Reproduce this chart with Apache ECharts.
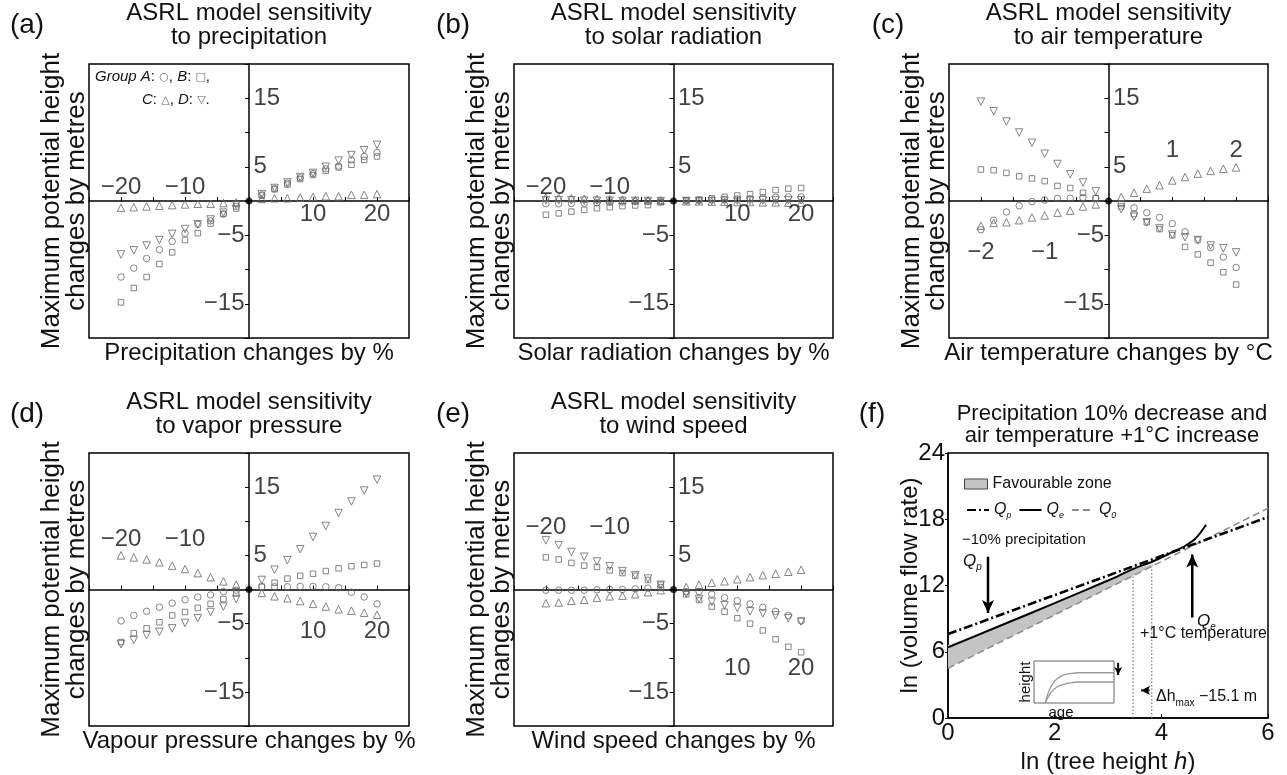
<!DOCTYPE html>
<html>
<head>
<meta charset="utf-8">
<script src="https://cdn.jsdelivr.net/npm/echarts@6/dist/echarts.min.js"></script>
<style>
  html, body { margin: 0; background: #fff; }
  #chart { width: 1287px; height: 775px; }
</style>
</head>
<body>
<div id="chart"></div>
<script>
const FONT = '"Liberation Sans", Arial, Helvetica, sans-serif';

// x positions of the runs
const pctX = [-20, -18, -16, -14, -12, -10, -8, -6, -4, -2, 2, 4, 6, 8, 10, 12, 14, 16, 18, 20];
const tempX = [-2, -1.8, -1.6, -1.4, -1.2, -1, -0.8, -0.6, -0.4, -0.2, 0.2, 0.4, 0.6, 0.8, 1, 1.2, 1.4, 1.6, 1.8, 2];

// tick labels
const pctTicks = [-20, -10, 10, 20];
const tempTicks = [-2, -1, 1, 2];
const heightTicks = [15, 5, -5, -15];

// (a) precipitation, groups A-D
const precipA = [-11.1, -9.8, -8.4, -7.1, -5.9, -4.7, -3.4, -2.9, -1.9, -0.8, 0.9, 1.8, 2.6, 3.4, 4.0, 4.7, 5.1, 6.0, 6.5, 7.1];
const precipB = [-14.8, -12.7, -11.1, -9.2, -7.5, -5.7, -4.7, -3.3, -1.9, -1.1, 0.8, 1.7, 2.4, 3.2, 3.8, 4.4, 4.9, 5.3, 6.0, 6.5];
const precipC = [-1.0, -0.9, -0.8, -0.7, -0.6, -0.5, -0.4, -0.4, -0.3, -0.2, 0.3, 0.4, 0.4, 0.5, 0.6, 0.7, 0.7, 0.9, 0.9, 1.0];
const precipD = [-7.8, -7.2, -6.5, -5.7, -4.8, -4.1, -3.4, -2.7, -1.7, -0.6, 1.0, 1.9, 2.7, 3.5, 4.1, 5.0, 5.9, 6.7, 7.4, 8.2];

// (b) solar radiation
const solarA = [-0.4, -0.4, -0.35, -0.3, -0.25, -0.2, -0.15, -0.1, -0.05, 0, 0.05, 0.1, 0.15, 0.2, 0.3, 0.35, 0.45, 0.55, 0.6, 0.6];
const solarB = [-2.0, -1.8, -1.55, -1.3, -1.05, -0.9, -0.75, -0.65, -0.6, -0.2, 0.1, 0.2, 0.4, 0.6, 0.8, 1.0, 1.3, 1.6, 1.8, 1.9];
const solarC = [0.5, 0.45, 0.4, 0.35, 0.3, 0.25, 0.2, 0.15, 0.1, 0.05, -0.05, -0.05, -0.1, -0.1, -0.15, -0.15, -0.2, -0.2, -0.25, -0.25];
const solarD = [0.1, 0.1, 0.1, 0.05, 0.05, 0.05, 0, 0, 0, 0, 0, 0, 0, 0.05, 0.05, 0.05, 0.1, 0.1, 0.1, 0.1];

// (c) air temperature
const tempA = [-4.2, -2.8, -1.6, -0.7, -0.1, 0.15, 0.4, 0.4, 0.5, 0.4, -0.4, -1.0, -1.7, -2.4, -3.3, -4.5, -5.7, -6.8, -8.2, -9.7];
const tempB = [4.6, 4.5, 4.1, 3.6, 3.3, 2.9, 2.2, 1.9, 1.2, 0.4, -0.8, -1.9, -3.1, -4.1, -5.0, -6.7, -7.8, -9.0, -10.4, -12.2];
const tempC = [-3.6, -3.2, -3.1, -2.8, -2.4, -2.1, -1.7, -1.4, -0.8, -0.5, 0.6, 1.2, 1.8, 2.3, 3.0, 3.5, 4.0, 4.4, 4.7, 4.9];
const tempD = [14.5, 13.1, 11.6, 10.0, 8.5, 6.9, 5.4, 3.9, 2.7, 1.4, -1.2, -2.3, -3.1, -4.0, -4.9, -5.3, -5.7, -6.5, -6.9, -7.5];

// (d) vapour pressure
const vaporA = [-4.6, -3.8, -3.2, -2.6, -2.0, -1.5, -1.1, -0.8, -0.3, -0.1, 0.4, 0.4, 0.4, 0.45, 0.45, 0.4, 0.25, -0.4, -1.1, -2.1];
const vaporB = [-7.7, -6.4, -5.7, -4.8, -3.8, -3.3, -2.7, -2.1, -1.4, -0.6, 0.4, 1.0, 1.6, 2.0, 2.3, 2.7, 3.1, 3.4, 3.6, 3.8];
const vaporC = [5.0, 4.7, 4.4, 4.0, 3.5, 3.0, 2.4, 1.8, 1.2, 0.7, -0.5, -1.0, -1.3, -1.7, -2.1, -2.5, -2.9, -3.1, -3.4, -3.7];
const vaporD = [-8.0, -7.4, -6.7, -6.2, -5.7, -4.9, -4.2, -3.3, -2.5, -1.4, 1.4, 2.9, 4.3, 5.9, 7.7, 9.3, 11.2, 12.9, 14.5, 16.1];

// (e) wind speed
const windA = [-0.1, -0.1, -0.1, -0.1, -0.05, 0, 0, 0.1, 0.2, 0.3, -0.3, -0.3, -0.7, -1.2, -1.65, -2.1, -2.6, -3.2, -3.8, -4.6];
const windB = [4.7, 4.4, 3.9, 3.5, 3.3, 2.8, 2.4, 2.0, 1.4, 0.7, -0.7, -1.55, -2.5, -3.25, -4.2, -5.0, -6.0, -7.3, -8.4, -9.2];
const windC = [-2.0, -1.9, -1.65, -1.5, -1.2, -1.0, -0.9, -0.7, -0.4, -0.1, 0.35, 0.7, 1.0, 1.2, 1.5, 1.8, 2.1, 2.3, 2.6, 2.9];
const windD = [7.2, 6.5, 5.5, 4.8, 4.1, 3.4, 2.7, 2.1, 1.6, 0.7, -0.6, -1.4, -1.8, -2.3, -2.7, -3.2, -3.5, -3.8, -4.2, -4.7];

// (f) ln(Q) against ln(h)
const lineX = [0, 6];
const q0 = [4.5, 19.0];
const qp = [7.6, 18.2];
const qeX = [0, 1, 2, 3, 3.5, 3.85, 4.2, 4.45, 4.65, 4.84];
const qe = [6.4, 8.4, 10.4, 12.45, 13.55, 14.2, 15.0, 15.6, 16.3, 17.5];
const zoneX = [0, 1, 2, 3, 3.5, 3.85];
const zoneLow = [4.5, 6.92, 9.33, 11.75, 12.96, 13.8];
const zoneTop = [6.6, 8.45, 10.4, 12.45, 13.5, 13.95];
const dropA = [[3.47, 0], [3.47, 13.0]];
const dropB = [[3.82, 0], [3.82, 13.7]];
const arrowP = [[0.75, 14.6], [0.75, 9.5]];
const arrowE = [[4.58, 9.1], [4.58, 14.8]];
const arrowH = [[3.78, 2.5], [3.62, 2.5]];
const arrowInset = [[3.19, 5.0], [3.19, 3.9]];

// inset height against age
const insetAge = [0.14, 0.18, 0.23, 0.29, 0.36, 0.45, 0.56, 0.7, 1];
const insetHigh = [0, 0.25, 0.45, 0.58, 0.66, 0.7, 0.72, 0.72, 0.72];
const insetLow = [0, 0.15, 0.29, 0.38, 0.44, 0.48, 0.5, 0.5, 0.5];

const zip = (xs, ys) => xs.map((x, i) => [x, ys[i]]);
const fmt = v => (v < 0 ? '\u2212' + Math.abs(v) : String(v));

const panels = [
  { letter: '(a)', title: 'ASRL model sensitivity\nto precipitation', xname: 'Precipitation changes by %',
    box: { left: 89, top: 64, width: 320, height: 274 }, xs: pctX, range: 25, step: 5, ticks: pctTicks,
    negY: 2.0, posY: -2.0, groups: [precipA, precipB, precipC, precipD] },
  { letter: '(b)', title: 'ASRL model sensitivity\nto solar radiation', xname: 'Solar radiation changes by %',
    box: { left: 514, top: 64, width: 319, height: 274 }, xs: pctX, range: 25, step: 5, ticks: pctTicks,
    negY: 2.0, posY: -2.0, groups: [solarA, solarB, solarC, solarD] },
  { letter: '(c)', title: 'ASRL model sensitivity\nto air temperature', xname: 'Air temperature changes by \u00b0C',
    box: { left: 949, top: 64, width: 319, height: 274 }, xs: tempX, range: 2.5, step: 0.5, ticks: tempTicks,
    negY: -7.5, posY: 7.4, groups: [tempA, tempB, tempC, tempD] },
  { letter: '(d)', title: 'ASRL model sensitivity\nto vapor pressure', xname: 'Vapour pressure changes by %',
    box: { left: 89, top: 453, width: 320, height: 273 }, xs: pctX, range: 25, step: 5, ticks: pctTicks,
    negY: 7.4, posY: -6.2, groups: [vaporA, vaporB, vaporC, vaporD] },
  { letter: '(e)', title: 'ASRL model sensitivity\nto wind speed', xname: 'Wind speed changes by %',
    box: { left: 514, top: 453, width: 319, height: 273 }, xs: pctX, range: 25, step: 5, ticks: pctTicks,
    negY: 9.1, posY: -11.5, groups: [windA, windB, windC, windD] },
];

const markers = [
  { symbol: 'circle', size: 6.5, rotate: 0 },
  { symbol: 'rect', size: 5.5, rotate: 0 },
  { symbol: 'triangle', size: 7.5, rotate: 0 },
  { symbol: 'triangle', size: 7.5, rotate: 180 },
];

const grid = [];
const xAxis = [];
const yAxis = [];
const series = [];
const texts = [];

function text(x, y, str, size, extra) {
  return Object.assign({
    type: 'text', x: x, y: y, silent: true, z: 100,
    style: {
      text: str, font: size + 'px ' + FONT, fill: '#111',
      textAlign: 'center', align: 'center', textVerticalAlign: 'middle', verticalAlign: 'middle',
      lineHeight: size
    }
  }, extra || {});
}

panels.forEach((p, i) => {
  const b = p.box;
  const cx = b.left + b.width / 2;
  grid.push(Object.assign({ show: true, borderColor: '#000', borderWidth: 1.5, backgroundColor: 'transparent' }, b));
  xAxis.push({
    gridIndex: i, type: 'value', min: -p.range, max: p.range, interval: p.step,
    axisLine: { onZero: true, lineStyle: { color: '#000', width: 1.5 } },
    axisTick: { inside: true, length: 4, lineStyle: { color: '#000' } },
    axisLabel: { show: false }, splitLine: { show: false }
  });
  yAxis.push({
    gridIndex: i, type: 'value', min: -20, max: 20, interval: 5,
    axisLine: { onZero: true, lineStyle: { color: '#000', width: 1.5 } },
    axisTick: { inside: false, length: 4, lineStyle: { color: '#000' } },
    axisLabel: { show: false }, splitLine: { show: false }
  });

  p.groups.forEach((vals, g) => {
    const m = markers[g];
    series.push({
      type: 'scatter', xAxisIndex: i, yAxisIndex: i, silent: true,
      symbol: m.symbol, symbolSize: m.size, symbolRotate: m.rotate,
      itemStyle: { color: 'rgba(255,255,255,0)', borderColor: '#666', borderWidth: 1 },
      data: zip(p.xs, vals)
    });
  });
  series.push({
    type: 'scatter', xAxisIndex: i, yAxisIndex: i, silent: true, z: 4,
    symbol: 'circle', symbolSize: 7, itemStyle: { color: '#000' }, data: [[0, 0]]
  });
  // tick labels sitting next to the crossing axes
  series.push({
    type: 'scatter', xAxisIndex: i, yAxisIndex: i, silent: true, z: 5,
    symbolSize: 1, itemStyle: { color: 'rgba(0,0,0,0)' },
    data: p.ticks.map(v => [v, v < 0 ? p.negY : p.posY]),
    label: { show: true, position: 'inside', formatter: q => fmt(q.value[0]),
      fontSize: 24, fontFamily: FONT, color: '#111' }
  });
  series.push({
    type: 'scatter', xAxisIndex: i, yAxisIndex: i, silent: true, z: 5,
    symbolSize: 1, itemStyle: { color: 'rgba(0,0,0,0)' },
    data: heightTicks.map(v => ({ value: [0, v], label: { position: v > 0 ? 'right' : 'left' } })),
    label: { show: true, distance: 4, formatter: q => fmt(q.value[1]),
      fontSize: 24, fontFamily: FONT, color: '#111' }
  });

  texts.push(text(cx, b.top - 39, p.title, 24, {}));
  texts.push(text(p.letter === '(a)' || p.letter === '(d)' ? 27 : b.left - 61, b.top - 39, p.letter, 28, {}));
  texts.push(text(cx, b.top + b.height + 15, p.xname, 24, {}));
  const yn = text(b.left - 25, b.top + b.height / 2, 'Maximum potential height\nchanges by metres', 26, { rotation: Math.PI / 2 });
  yn.style.lineHeight = 25;
  texts.push(yn);
});

// panel (f)
const fi = 5;
grid.push({ show: true, left: 948, top: 453, width: 320, height: 274, borderColor: '#000', borderWidth: 1.5, backgroundColor: 'transparent' });
xAxis.push({
  gridIndex: fi, type: 'value', min: 0, max: 6, interval: 2,
  axisLine: { lineStyle: { color: '#000', width: 1.5 } },
  axisTick: { inside: true, length: 4, lineStyle: { color: '#000' } },
  axisLabel: { fontSize: 24, fontFamily: FONT, color: '#111', margin: 3 },
  splitLine: { show: false },
  name: '{t|ln (tree height }{i|h}{t|)}', nameLocation: 'middle', nameGap: 32,
  nameTextStyle: { rich: {
    t: { fontSize: 24, fontFamily: FONT, color: '#111' },
    i: { fontSize: 24, fontFamily: FONT, color: '#111', fontStyle: 'italic' } } }
});
yAxis.push({
  gridIndex: fi, type: 'value', min: 0, max: 24, interval: 6,
  axisLine: { lineStyle: { color: '#000', width: 1.5 } },
  axisTick: { inside: false, length: 3, lineStyle: { color: '#000' } },
  axisLabel: { fontSize: 24, fontFamily: FONT, color: '#111', margin: 3 },
  splitLine: { show: false },
  name: 'ln (volume flow rate)', nameLocation: 'middle', nameGap: 26, nameMoveOverlap: false,
  nameTextStyle: { fontSize: 24, fontFamily: FONT, color: '#111' }
});

// favourable zone: polygon between the two zone edges, mapped through the axes
series.push({
  name: 'Favourable zone', type: 'custom', xAxisIndex: fi, yAxisIndex: fi, silent: true, z: 1,
  data: [[0, 0]],
  renderItem: (params, api) => {
    const top = zoneX.map((x, k) => api.coord([x, zoneTop[k]]));
    const low = zoneX.map((x, k) => api.coord([x, zoneLow[k]])).reverse();
    return { type: 'polygon', shape: { points: top.concat(low) }, style: { fill: '#c4c4c4' } };
  }
});
const guide = (pts) => ({
  type: 'line', xAxisIndex: fi, yAxisIndex: fi, silent: true, symbol: 'none',
  lineStyle: { color: '#777', width: 1.2, type: [1.5, 2] }, data: pts
});
series.push(guide(dropA));
series.push(guide(dropB));
series.push({
  name: 'Q0', type: 'line', xAxisIndex: fi, yAxisIndex: fi, silent: true, symbol: 'none', color: '#8a8a8a',
  lineStyle: { color: '#8a8a8a', width: 1.5, type: [7, 4] }, data: zip(lineX, q0)
});
series.push({
  name: 'Qp', type: 'line', xAxisIndex: fi, yAxisIndex: fi, silent: true, symbol: 'none', color: '#000',
  lineStyle: { color: '#000', width: 2.6, type: [9, 3, 2, 3] }, data: zip(lineX, qp)
});
series.push({
  name: 'Qe', type: 'line', xAxisIndex: fi, yAxisIndex: fi, silent: true, symbol: 'none', color: '#000',
  smooth: 0.3, lineStyle: { color: '#000', width: 2 }, data: zip(qeX, qe)
});
const arrow = (pts, rot, w, size) => ({
  type: 'line', xAxisIndex: fi, yAxisIndex: fi, silent: true, z: 6,
  lineStyle: { color: '#000', width: w }, itemStyle: { color: '#000' },
  data: [{ value: pts[0], symbol: 'none' },
         { value: pts[1], symbol: 'arrow', symbolSize: size, symbolRotate: rot }]
});
series.push(arrow(arrowP, 180, 2.5, [9, 13]));
series.push(arrow(arrowE, 0, 2.5, [9, 13]));
series.push(arrow(arrowH, 90, 2, [7, 9]));
series.push(arrow(arrowInset, 180, 2, [6, 8]));

// inset
const ii = 6;
grid.push({ show: true, left: 1034, top: 661, width: 80, height: 42, borderColor: '#666', borderWidth: 1, backgroundColor: '#fff', z: 3 });
xAxis.push({ gridIndex: ii, type: 'value', min: 0, max: 1, show: false });
yAxis.push({ gridIndex: ii, type: 'value', min: 0, max: 1, show: false });
[insetHigh, insetLow].forEach(v => series.push({
  type: 'line', xAxisIndex: ii, yAxisIndex: ii, silent: true, symbol: 'none', smooth: true, z: 7,
  lineStyle: { color: '#999', width: 1.3 }, data: zip(insetAge, v)
}));

// panel (f) texts
texts.push(text(1112, 425, 'Precipitation 10% decrease and\nair temperature +1\u00b0C increase', 22, {}));
texts.push(text(872, 414, '(f)', 28, {}));
const left = (x, y, str, size, rich) => {
  const t = text(x, y, str, size, {});
  t.style.textAlign = 'left'; t.style.align = 'left';
  if (rich) t.style.rich = rich;
  return t;
};
const qRich = {
  q: { fontSize: 17, fontFamily: FONT, fontStyle: 'italic', fill: '#111', color: '#111', lineHeight: 22 },
  s: { fontSize: 10, fontFamily: FONT, fontStyle: 'italic', fill: '#111', color: '#111', lineHeight: 10, verticalAlign: 'bottom' }
};
texts.push(left(962, 540, '\u221210% precipitation', 15));
texts.push(left(963, 561, '{q|Q}{s|p}', 17, qRich));
texts.push(left(1197, 621, '{q|Q}{s|e}', 17, qRich));
texts.push(left(1140, 634, '+1\u00b0C temperature', 16));
texts.push(left(1156, 697, '{t|\u0394h}{s|max}{t| \u221215.1 m}', 16, {
  t: { fontSize: 16, fontFamily: FONT, fill: '#111', color: '#111', lineHeight: 22 },
  s: { fontSize: 10, fontFamily: FONT, fill: '#111', color: '#111', lineHeight: 10, verticalAlign: 'bottom' }
}));
texts.push(text(1026, 682, 'height', 15, { rotation: Math.PI / 2 }));
texts.push(text(1061, 713, 'age', 15, {}));

// legend of panel (a)
const gRich = {
  i: { fontSize: 15, fontFamily: FONT, fontStyle: 'italic', fill: '#111', color: '#111' },
  t: { fontSize: 15, fontFamily: FONT, fill: '#111', color: '#111' },
  g: { fontSize: 11, fontFamily: '"DejaVu Sans", sans-serif', fill: '#666', color: '#666' }
};
texts.push(left(95, 77, '{i|Group A}{t|: }{g|\u25cb}{t|, }{i|B}{t|: }{g|\u25a1}{t|,}', 15, gRich));
texts.push(left(142, 100, '{i|C}{t|: }{g|\u25b3}{t|, }{i|D}{t|: }{g|\u25bd}{t|.}', 15, gRich));

const option = {
  animation: false,
  backgroundColor: '#fff',
  grid: grid,
  xAxis: xAxis,
  yAxis: yAxis,
  legend: [
    { data: [{ name: 'Favourable zone', icon: 'rect', itemStyle: { color: '#c4c4c4', borderColor: '#444', borderWidth: 1 } }],
      left: 959, top: 471, itemWidth: 23, itemHeight: 10, selectedMode: false,
      textStyle: { fontSize: 16, fontFamily: FONT, color: '#111' } },
    { data: ['Qp', 'Qe', 'Q0'], left: 961, top: 497, itemWidth: 22, itemHeight: 10, itemGap: 7, selectedMode: false,
      itemStyle: { opacity: 0 },
      formatter: n => '{q|Q}{s|' + n.slice(1) + '}',
      textStyle: { rich: {
        q: { fontSize: 16, fontFamily: FONT, fontStyle: 'italic', color: '#111', lineHeight: 20 },
        s: { fontSize: 9, fontFamily: FONT, fontStyle: 'italic', color: '#111', lineHeight: 9, verticalAlign: 'bottom' } } } }
  ],
  graphic: { elements: texts },
  series: series
};

const chart = echarts.init(document.getElementById('chart'));
chart.setOption(option);
window.addEventListener('resize', () => chart.resize());
</script>
</body>
</html>
